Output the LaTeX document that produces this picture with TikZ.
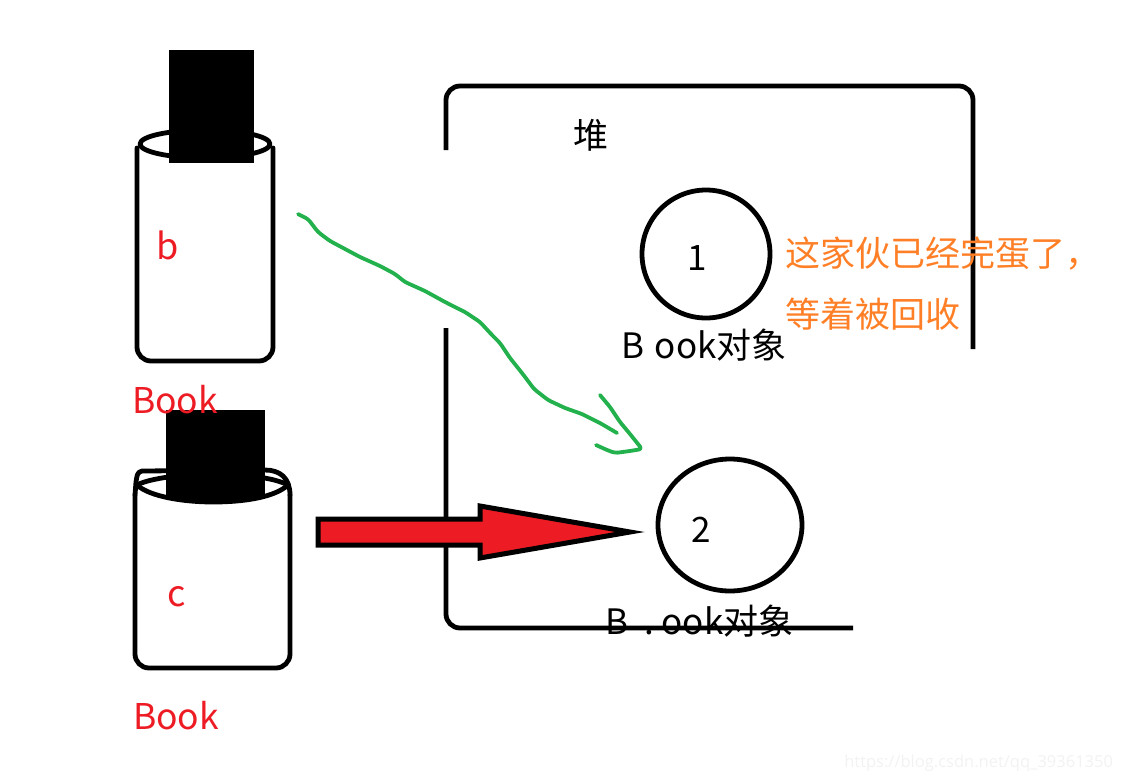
\documentclass[tikz,border=0pt]{standalone}
\usepackage{fontspec}
\setmainfont{Noto Sans CJK SC}
\newfontfamily\latinf{Open Sans}
\definecolor{redm}{HTML}{ED1C24}
\definecolor{orangem}{HTML}{FF7F27}
\definecolor{greenm}{HTML}{22B14C}
\newcommand{\pxfont}[1]{\fontsize{#1}{#1}\selectfont}
\tikzset{
  ink/.style={draw=black,line width=4.8pt,line join=round,line cap=round},
  plain/.style={inner sep=0pt,outer sep=0pt},
  blacktxt/.style={plain,text=black,font=\pxfont{35}},
  redtxt/.style={plain,text=redm,font=\pxfont{35.5}},
  orangetxt/.style={plain,text=orangem,anchor=west,font=\pxfont{35}},
  greenpen/.style={draw=greenm,line width=3.8pt,line cap=round,line join=round,rounded corners=3pt}
}
\begin{document}
\begin{tikzpicture}[x=1pt,y=-1pt]
\useasboundingbox (0,0) rectangle (1122,782);
% heap outline
\draw[ink,line cap=butt,rounded corners=14pt] (446,150) -- (446,86) -- (973,86) -- (973,349);
\draw[ink,line cap=butt,rounded corners=14pt] (446,328) -- (446,628) -- (853,628);
% jars
\draw[ink,rounded corners=14pt] (137,148) -- (137,361) -- (273,361) -- (273,148);
\draw[ink] (205,144) ellipse [x radius=65,y radius=14];
\draw[ink,rounded corners=14pt] (135,495) -- (135,668) -- (290,668) -- (290,495);
\draw[ink] (135,495) -- (136,482) .. controls (137,476) and (137,472) .. (142,471) -- (265,470) .. controls (280,470) and (290,478) .. (290,495);
\draw[ink] (137,485) .. controls (150,478) and (185,474) .. (213,474) .. controls (245,474) and (275,478) .. (288,485);
\draw[ink] (137,485) .. controls (150,497) and (185,502) .. (213,502) .. controls (245,502) and (275,497) .. (288,485);
\fill[black] (169,50) rectangle (254,163);
\fill[black] (166,410) rectangle (265,497);
\fill[black] (166,495) .. controls (185,506) and (245,506) .. (265,495) -- cycle;
% objects
\node[draw=black,line width=4.8pt,circle,minimum size=128pt,plain] (obja) at (706,254) {};
\draw[ink] (730,525) ellipse [x radius=72,y radius=66];
% labels
\node[blacktxt] (heap) at (591,135) {堆};
\node[blacktxt] (one) at (697,258) {1};
\node[blacktxt] (two) at (701,530) {2};
\node[plain,text=redm,font=\pxfont{36}] (b) at (168,245) {b};
\node[plain,text=redm,font=\pxfont{36}] (c) at (177,597) {c};
\node[redtxt,anchor=west] (bookb) at (132,400) {Book};
\node[redtxt,anchor=west] (bookc) at (133,716) {Book};
\node[blacktxt,anchor=west] (objb) at (621,345) {B\hspace{3pt} ook对象};
\node[blacktxt,anchor=west] (objc) at (605,621) {B\hspace{17pt}.\hspace{7pt}ook对象};
\node[orangetxt] (note1) at (785,254) {这家伙已经完蛋了，};
\node[orangetxt] (note2) at (785,314) {等着被回收};
\node[plain,text=black!5,anchor=east,font=\latinf\pxfont{16.5}] (mark) at (1113,763) {https://blog.csdn.net/qq\_39361350};
% line over text
\draw[ink,line cap=butt] (460,628) -- (853,628);
% red arrow
\coordinate (arrowstart) at (318,532);
\coordinate (arrowtip) at (630,532);
\draw[draw=black,fill=redm,line width=5pt,line join=miter,miter limit=20]
  (arrowstart |- 0,519) -- (480,519) -- (480,506) -- (arrowtip) -- (480,558) -- (480,545) -- (arrowstart |- 0,545) -- cycle;
% green stroke
\draw[greenpen] (298,214) -- (308,219) -- (318,232) -- (330,241) -- (345,249) -- (360,257) -- (380,266) -- (395,274) -- (405,282) -- (425,291) -- (445,302) -- (465,312) -- (480,322) -- (492,335) -- (500,343) -- (510,358) -- (522,373) -- (534,389) -- (548,400) -- (565,408) -- (582,414) -- (600,423) -- (617,433);
\draw[greenpen] (600,395) -- (610,407) -- (620,422) -- (630,434) -- (642,449) -- (630,451) -- (615,453) -- (607,450) -- (596,445);
\end{tikzpicture}
\end{document}
